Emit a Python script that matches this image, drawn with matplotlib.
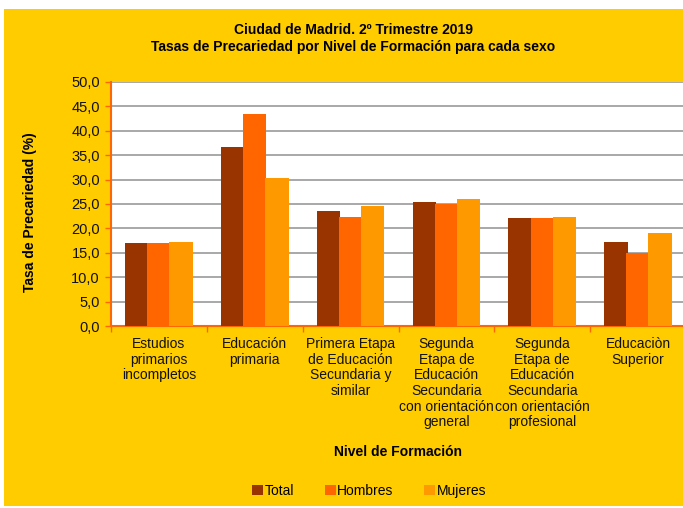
import matplotlib
matplotlib.use('Agg')
import matplotlib.pyplot as plt
import numpy as np
from matplotlib.patches import Rectangle

plt.rcParams['font.family'] = ['Liberation Sans', 'DejaVu Sans']

# Data
categorias = [
    "Estudios\nprimarios\nincompletos",
    "Educación\nprimaria",
    "Primera Etapa\nde Educación\nSecundaria y\nsimilar",
    "Segunda\nEtapa de\nEducación\nSecundaria\ncon orientación\ngeneral",
    "Segunda\nEtapa de\nEducación\nSecundaria\ncon orientación\nprofesional",
    "Educaciòn\nSuperior",
]
total = [17.1, 36.6, 23.5, 25.5, 22.2, 17.3]
hombres = [17.1, 43.5, 22.3, 24.9, 22.1, 15.0]
mujeres = [17.3, 30.3, 24.6, 26.0, 22.3, 19.0]
series_names = ["Total", "Hombres", "Mujeres"]
series_colors = ["#993300", "#FF6600", "#FF9900"]
y_ticks = np.arange(0, 50.1, 5)

W, H = 683, 508
fig = plt.figure(figsize=(W / 100, H / 100), dpi=100)
fig.patch.set_facecolor('white')

# yellow chart area
fig.patches.append(Rectangle((4 / W, 1 - 506 / H), 1, (506 - 9) / H,
                             transform=fig.transFigure, facecolor='#FFCC00',
                             edgecolor='none', zorder=-10))

ax = fig.add_axes([111 / W, 1 - 326 / H, (686 - 111) / W, (326 - 82) / H])
ax.set_facecolor('white')

x = np.arange(len(categorias))
bw = 0.245
offs = [-0.23, 0.0, 0.23]
for vals, name, col, off in zip([total, hombres, mujeres], series_names,
                                series_colors, offs):
    ax.bar(x + off, vals, width=bw, color=col, label=name, zorder=3,
           edgecolor='none')

ax.set_xlim(-0.5, len(categorias) - 0.5)
ax.set_ylim(0, 50)
ax.set_yticks(y_ticks)
ax.set_yticklabels([f"{v:.1f}".replace('.', ',') for v in y_ticks],
                   fontsize=10.5, color='#111111')
ax.yaxis.grid(True, color='#999999', linewidth=1.2, zorder=0)
ax.set_axisbelow(True)

# category labels centred, tick marks at boundaries
ax.set_xticks(x)
ax.set_xticklabels(categorias, fontsize=10, color='#111111', linespacing=1.15)
ax.tick_params(axis='x', length=0, pad=8)
ax.set_xticks(np.arange(-0.5, len(categorias), 1), minor=True)
ax.tick_params(axis='x', which='minor', length=4, color='#FF6600', width=1)
ax.tick_params(axis='y', length=4, color='#FF6600', width=1, pad=4)

for s in ['top', 'right']:
    ax.spines[s].set_visible(False)
for s in ['left', 'bottom']:
    ax.spines[s].set_color('#FF6600')
    ax.spines[s].set_linewidth(1.5)

ax.set_xlabel("Nivel de Formación", fontsize=10, fontweight='bold',
              labelpad=0)
ax.xaxis.set_label_coords((398 - 111) / (686 - 111), -(445 - 326) / (326 - 82))
ax.set_ylabel("Tasa de Precariedad (%)", fontsize=10, fontweight='bold')
ax.yaxis.set_label_coords(-(111 - 37) / (686 - 111), 0.467)

fig.text(353 / W, 1 - 30 / H, "Ciudad de Madrid. 2º Trimestre 2019",
         ha='center', va='center', fontsize=10, fontweight='bold')
fig.text(353 / W, 1 - 46.5 / H,
         "Tasas de Precariedad por Nivel de Formación para cada sexo",
         ha='center', va='center', fontsize=10, fontweight='bold')

leg = fig.legend(loc='center', bbox_to_anchor=(369 / W, 1 - 491 / H), ncol=3,
                 frameon=False, fontsize=10, handlelength=0.8,
                 handleheight=0.8, handletextpad=0.1, columnspacing=2.2)

fig.savefig('out.png', dpi=100, facecolor='white')
